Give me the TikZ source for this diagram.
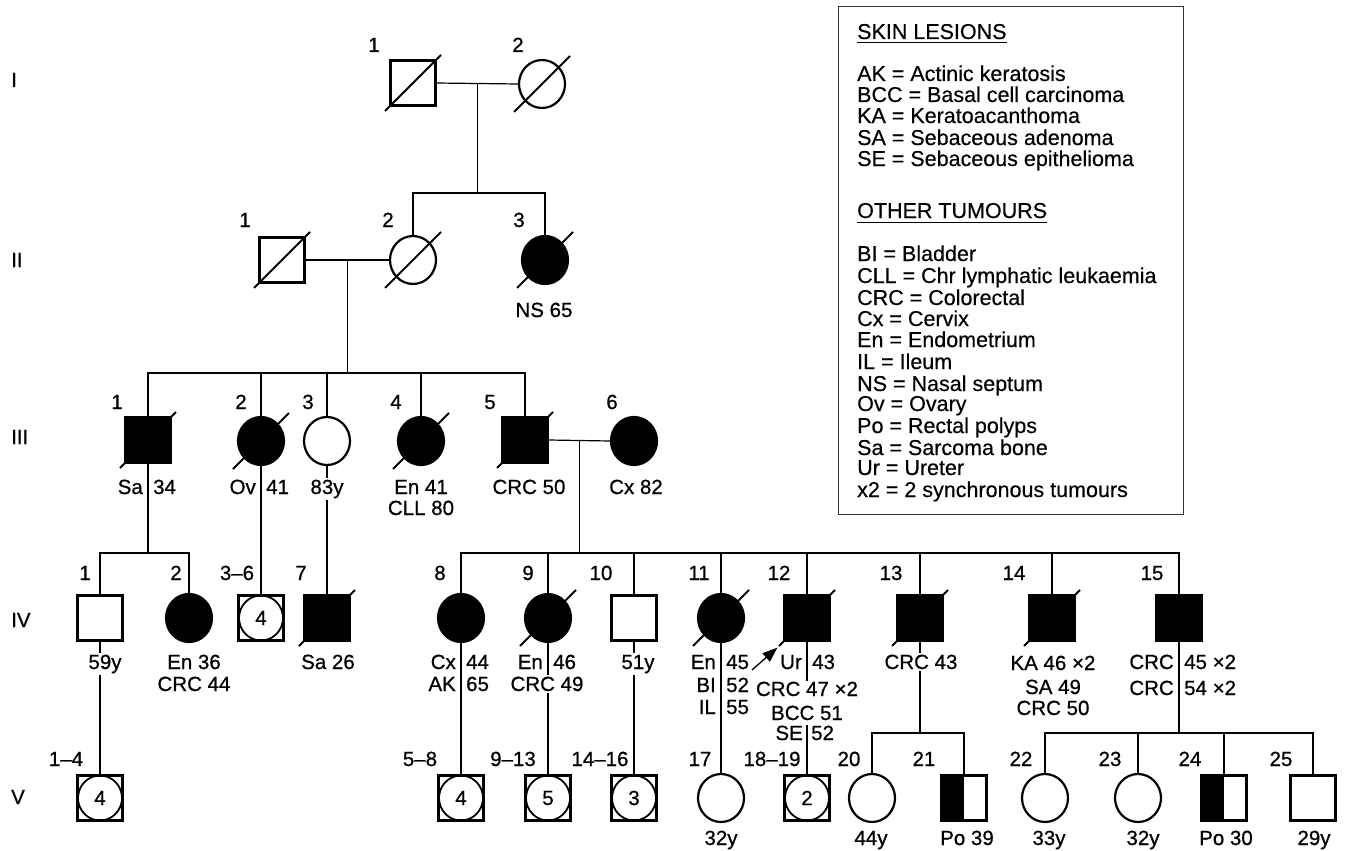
\documentclass[tikz,border=0pt]{standalone}
\usepackage{fontspec}
\setmainfont{Liberation Sans}
\newfontfamily\pedfont[FakeBold=0.7]{Liberation Sans}
\newfontfamily\legfont[FakeBold=0.4]{Liberation Sans}
\usetikzlibrary{shapes.geometric,calc,arrows.meta}
\newcommand\lblfont{\pedfont\fontsize{20.5}{24}\selectfont}
\newcommand\lgfont{\legfont\fontsize{21.5}{25}\selectfont}
\newcommand\deceased[1]{\draw[slash] ([shift={(-28pt,-28pt)}]#1.center) -- ([shift={(28pt,28pt)}]#1.center);}
\begin{document}
\begin{tikzpicture}[x=1pt,y=-1pt,
  sym/.style={draw, line width=2.2pt, inner sep=0pt, font=\lblfont},
  male/.style={sym, rectangle, minimum width=45pt, minimum height=45pt},
  female/.style={sym, ellipse, minimum width=46pt, minimum height=48pt},
  aff/.style={fill=black},
  multi/.style={male, path picture={\draw[line width=1.8pt] (path picture bounding box.center) ellipse [x radius=22pt, y radius=22.5pt];}},
  half/.style={male, path picture={\fill[black] (path picture bounding box.north west) rectangle (path picture bounding box.south);}},
  conn/.style={line width=1.2pt},
  slash/.style={line width=1.8pt},
  lbl/.style={font=\lblfont, inner sep=0pt, anchor=base},
  wlbl/.style={lbl, fill=white, inner sep=1.5pt},
  gen/.style={font=\lblfont, inner sep=0pt, anchor=base west},
  lg/.style={font=\lgfont, inner sep=0pt, anchor=base west}
]
\useasboundingbox (0,0) rectangle (1347,851);

% generation labels
\node[gen] (gI) at (11,87) {I};
\node[gen] (gII) at (11,267) {II};
\node[gen] (gIII) at (11,444) {III};
\node[gen] (gIV) at (11,627) {IV};
\node[gen] (gV) at (11,804) {V};

% ---------- symbols ----------
% I
\node[male] (I1) at (413,83) {};
\node[female] (I2) at (542,84) {};
% II
\node[male] (II1) at (282,260) {};
\node[female] (II2) at (413,260) {};
\node[female,aff] (II3) at (545,260) {};
% III
\node[male,aff] (III1) at (148,440) {};
\node[female,aff] (III2) at (261,441) {};
\node[female] (III3) at (327,441) {};
\node[female,aff] (III4) at (421,441) {};
\node[male,aff] (III5) at (525,440) {};
\node[female,aff] (III6) at (634,441) {};
% IV
\node[male] (IV1) at (100,618) {};
\node[female,aff] (IV2) at (189,618) {};
\node[multi] (IV36) at (261,618) {4};
\node[male,aff] (IV7) at (327,618) {};
\node[female,aff] (IV8) at (461,618) {};
\node[female,aff] (IV9) at (548,618) {};
\node[male] (IV10) at (634,618) {};
\node[female,aff] (IV11) at (721,618) {};
\node[male,aff] (IV12) at (807,618) {};
\node[male,aff] (IV13) at (920,618) {};
\node[male,aff] (IV14) at (1052,618) {};
\node[male,aff] (IV15) at (1179,618) {};
% V
\node[multi] (V14) at (100,798) {4};
\node[multi] (V58) at (461,798) {4};
\node[multi] (V913) at (548,798) {5};
\node[multi] (V1416) at (634,798) {3};
\node[female] (V17) at (721,798) {};
\node[multi] (V1819) at (807,798) {2};
\node[female] (V20) at (872,798) {};
\node[half] (V21) at (964,798) {};
\node[female] (V22) at (1045,798) {};
\node[female] (V23) at (1138,798) {};
\node[half] (V24) at (1224,798) {};
\node[male] (V25) at (1313,798) {};

% deceased
\deceased{I1}\deceased{I2}
\deceased{II1}\deceased{II2}\deceased{II3}
\deceased{III1}\deceased{III2}\deceased{III4}\deceased{III5}
\deceased{IV7}\deceased{IV9}\deceased{IV11}\deceased{IV12}\deceased{IV13}\deceased{IV14}

% ---------- connectors ----------
% I
\draw[conn] (I1.east) -- (I2.west);
\coordinate (mI) at ($(I1.east)!0.5!(I2.west)$);
\coordinate (sI) at (478,193);
\draw[conn] (mI) -- (mI |- sI);
\draw[conn] (II2.north) -- (II2.north |- sI) -- (II3.north |- sI) -- (II3.north);
% II
\draw[conn] (II1.east) -- (II2.west);
\coordinate (mII) at ($(II1.east)!0.5!(II2.west)$);
\coordinate (sII) at (350,373);
\draw[conn] (mII) -- (mII |- sII);
\draw[conn] (III1.north) -- (III1.north |- sII) -- (III5.north |- sII) -- (III5.north);
\foreach \n in {III2,III3,III4}{\draw[conn] (\n.north) -- (\n.north |- sII);}
% III
\draw[conn] (III5.east) -- (III6.west);
\coordinate (mIII) at ($(III5.east)!0.5!(III6.west)$);
\coordinate (sIII) at (582,553);
\draw[conn] (mIII) -- (mIII |- sIII);
\draw[conn] (IV8.north) -- (IV8.north |- sIII) -- (IV15.north |- sIII) -- (IV15.north);
\foreach \n in {IV9,IV10,IV11,IV12,IV13,IV14}{\draw[conn] (\n.north) -- (\n.north |- sIII);}
\coordinate (sIIIa) at (148,553);
\draw[conn] (III1.south) -- (sIIIa);
\draw[conn] (IV1.north) -- (IV1.north |- sIIIa) -- (IV2.north |- sIIIa) -- (IV2.north);
\draw[conn] (III2.south) -- (IV36.north);
\draw[conn] (III3.south) -- (IV7.north);
% IV -> V
\draw[conn] (IV1.south) -- (V14.north);
\draw[conn] (IV8.south) -- (V58.north);
\draw[conn] (IV9.south) -- (V913.north);
\draw[conn] (IV10.south) -- (V1416.north);
\draw[conn] (IV11.south) -- (V17.north);
\coordinate (c12a) at (807,681);
\coordinate (c12b) at (807,725);
\draw[conn] (IV12.south) -- (c12a);
\draw[conn] (c12b) -- (V1819.north);
\coordinate (sIVa) at (920,733);
\draw[conn] (IV13.south) -- (sIVa);
\draw[conn] (V20.north) -- (V20.north |- sIVa) -- (V21.north |- sIVa) -- (V21.north);
\coordinate (sIVb) at (1179,733);
\draw[conn] (IV15.south) -- (sIVb);
\draw[conn] (V22.north) -- (V22.north |- sIVb) -- (V25.north |- sIVb) -- (V25.north);
\foreach \n in {V23,V24}{\draw[conn] (\n.north) -- (\n.north |- sIVb);}

% proband arrow
\coordinate (pa) at (752,670);
\draw[line width=1.3pt,-{Triangle[length=15pt,width=11pt]}] (pa) -- ([shift={(-6pt,-6pt)}]IV12.south west);

% ---------- numbers ----------
\node[lbl] (nI1) at (374,52) {1};
\node[lbl] (nI2) at (518,52) {2};
\node[lbl] (nII1) at (245,227) {1};
\node[lbl] (nII2) at (388,227) {2};
\node[lbl] (nII3) at (519,227) {3};
\node[lbl] (nIII1) at (117,409) {1};
\node[lbl] (nIII2) at (241,409) {2};
\node[lbl] (nIII3) at (308,409) {3};
\node[lbl] (nIII4) at (396,409) {4};
\node[lbl] (nIII5) at (490,409) {5};
\node[lbl] (nIII6) at (612,409) {6};
\node[lbl] (nIV1) at (85,580) {1};
\node[lbl] (nIV2) at (176,580) {2};
\node[lbl] (nIV36) at (237,580) {3–6};
\node[lbl] (nIV7) at (301,580) {7};
\node[lbl] (nIV8) at (440,580) {8};
\node[lbl] (nIV9) at (528,580) {9};
\node[lbl] (nIV10) at (601,580) {10};
\node[lbl] (nIV11) at (699,580) {11};
\node[lbl] (nIV12) at (779,580) {12};
\node[lbl] (nIV13) at (891,580) {13};
\node[lbl] (nIV14) at (1014,580) {14};
\node[lbl] (nIV15) at (1152,580) {15};
\node[lbl] (nV14) at (66,766) {1–4};
\node[lbl] (nV58) at (420,766) {5–8};
\node[lbl] (nV913) at (513,766) {9–13};
\node[lbl] (nV1416) at (600,766) {14–16};
\node[lbl] (nV17) at (700,766) {17};
\node[lbl] (nV1819) at (772,766) {18–19};
\node[lbl] (nV20) at (849,766) {20};
\node[lbl] (nV21) at (924,766) {21};
\node[lbl] (nV22) at (1021,766) {22};
\node[lbl] (nV23) at (1110,766) {23};
\node[lbl] (nV24) at (1190,766) {24};
\node[lbl] (nV25) at (1281,766) {25};

% ---------- labels ----------
\node[lbl] (tII3) at (544,317) {NS 65};
% III
\node[lbl,anchor=base east] (tIII1a) at (143,494) {Sa};
\node[lbl,anchor=base west] (tIII1b) at (153,494) {34};
\node[lbl,anchor=base east] (tIII2a) at (256,494) {Ov};
\node[lbl,anchor=base west] (tIII2b) at (266,494) {41};
\node[wlbl] (tIII3) at (327,494) {83y};
\node[lbl] (tIII4a) at (421,494) {En 41};
\node[lbl] (tIII4b) at (421,515) {CLL 80};
\node[lbl] (tIII5) at (529,494) {CRC 50};
\node[lbl] (tIII6) at (636,494) {Cx 82};
% IV
\node[wlbl] (tIV1) at (105,669) {59y};
\node[lbl] (tIV2a) at (194,669) {En 36};
\node[lbl] (tIV2b) at (194,691) {CRC 44};
\node[lbl] (tIV7) at (328,669) {Sa 26};
\node[lbl,anchor=base east] (tIV8a) at (456,669) {Cx};
\node[lbl,anchor=base west] (tIV8b) at (466,669) {44};
\node[lbl,anchor=base east] (tIV8c) at (456,691) {AK};
\node[lbl,anchor=base west] (tIV8d) at (466,691) {65};
\node[lbl,anchor=base east] (tIV9a) at (543,669) {En};
\node[lbl,anchor=base west] (tIV9b) at (553,669) {46};
\node[wlbl] (tIV9c) at (547,691) {CRC 49};
\node[wlbl] (tIV10) at (638,669) {51y};
\node[lbl,anchor=base east] (tIV11a) at (716,669) {En};
\node[lbl,anchor=base west] (tIV11b) at (726,669) {45};
\node[lbl,anchor=base east] (tIV11c) at (716,692) {BI};
\node[lbl,anchor=base west] (tIV11d) at (726,692) {52};
\node[lbl,anchor=base east] (tIV11e) at (716,714) {IL};
\node[lbl,anchor=base west] (tIV11f) at (726,714) {55};
\node[lbl,anchor=base east] (tIV12a) at (802,669) {Ur};
\node[lbl,anchor=base west] (tIV12b) at (812,669) {43};
\node[lbl] (tIV12c) at (807,696) {CRC 47 ×2};
\node[lbl] (tIV12d) at (807,720) {BCC 51};
\node[lbl,anchor=base east] (tIV12e) at (803,740) {SE};
\node[lbl,anchor=base west] (tIV12f) at (811,740) {52};
\node[wlbl] (tIV13) at (921,669) {CRC 43};
\node[lbl] (tIV14a) at (1053,670) {KA 46 ×2};
\node[lbl] (tIV14b) at (1053,694) {SA 49};
\node[lbl] (tIV14c) at (1053,715) {CRC 50};
\node[lbl,anchor=base east] (tIV15a) at (1174,669) {CRC};
\node[lbl,anchor=base west] (tIV15b) at (1184,669) {45 ×2};
\node[lbl,anchor=base east] (tIV15c) at (1174,695) {CRC};
\node[lbl,anchor=base west] (tIV15d) at (1184,695) {54 ×2};
% V
\node[lbl] (tV17) at (721,845) {32y};
\node[lbl] (tV20) at (871,845) {44y};
\node[lbl] (tV21) at (967,845) {Po 39};
\node[lbl] (tV22) at (1049,845) {33y};
\node[lbl] (tV23) at (1143,845) {32y};
\node[lbl] (tV24) at (1226,845) {Po 30};
\node[lbl] (tV25) at (1314,845) {29y};

% ---------- legend ----------
\node[draw=black!80, line width=0.9pt, minimum width=345pt, minimum height=508pt, anchor=north west, inner sep=0pt] (legend) at (838,6) {};
\node[lg] (lgA) at (857,39) {SKIN LESIONS};
\draw[line width=1pt] ([yshift=-4pt]lgA.base west) -- ([yshift=-4pt]lgA.base east);
\node[lg] (lg1) at (857,81) {AK = Actinic keratosis};
\node[lg] (lg2) at (857,102) {BCC = Basal cell carcinoma};
\node[lg] (lg3) at (857,123) {KA = Keratoacanthoma};
\node[lg] (lg4) at (857,145) {SA = Sebaceous adenoma};
\node[lg] (lg5) at (857,166) {SE = Sebaceous epithelioma};
\node[lg] (lgB) at (857,218) {OTHER TUMOURS};
\draw[line width=1pt] ([yshift=-4pt]lgB.base west) -- ([yshift=-4pt]lgB.base east);
\node[lg] (lg6) at (857,261) {BI = Bladder};
\node[lg] (lg7) at (857,283) {CLL = Chr lymphatic leukaemia};
\node[lg] (lg8) at (857,305) {CRC = Colorectal};
\node[lg] (lg9) at (857,326) {Cx = Cervix};
\node[lg] (lg10) at (857,347) {En = Endometrium};
\node[lg] (lg11) at (857,369) {IL = Ileum};
\node[lg] (lg12) at (857,391) {NS = Nasal septum};
\node[lg] (lg13) at (857,411) {Ov = Ovary};
\node[lg] (lg14) at (857,433) {Po = Rectal polyps};
\node[lg] (lg15) at (857,455) {Sa = Sarcoma bone};
\node[lg] (lg16) at (857,475) {Ur = Ureter};
\node[lg] (lg17) at (857,497) {x2 = 2 synchronous tumours};
\end{tikzpicture}
\end{document}
